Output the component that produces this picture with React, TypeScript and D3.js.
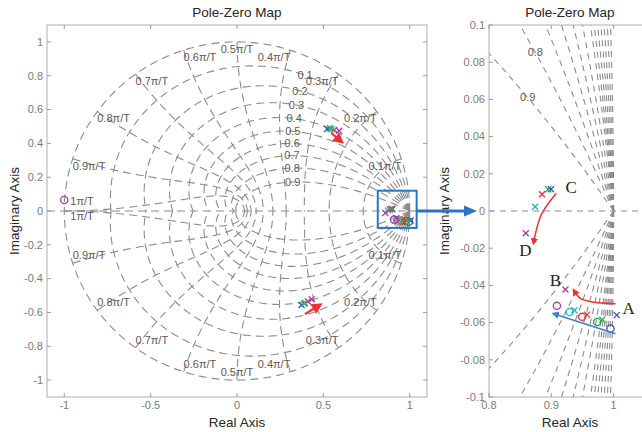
import * as d3 from "d3";

const colors = {
  blue: "#3c50c0",
  green: "#23a04a",
  red: "#e8323c",
  cyan: "#22b8b4",
  purple: "#a23dad",
};

const bluePoles = [[0.8995, 0.0117], [1.005, -0.056], [0.522, 0.485], [0.374, -0.556]];
const blueZeros = [[0.995, -0.0632]];
const greenPoles = [[0.895, 0.0117], [0.9818, -0.0584], [0.538, 0.489], [0.39, -0.548]];
const greenZeros = [[0.9737, -0.0597]];
const redPoles = [[0.885, 0.009], [0.9575, -0.0557], [0.562, 0.479], [0.41, -0.535]];
const redZeros = [[0.9495, -0.0569]];
const cyanPoles = [[0.874, 0.0023], [0.937, -0.0534], [0.548, 0.483], [0.393, -0.543]];
const cyanZeros = [[0.9295, -0.0543]];
const purplePoles = [[0.859, -0.012], [0.9226, -0.0422], [0.591, 0.475], [0.432, -0.522]];
const purpleZeros = [[0.909, -0.051], [-1.0, 0.065]];

const series = [
  { color: colors.blue, poles: bluePoles, zeros: blueZeros },
  { color: colors.green, poles: greenPoles, zeros: greenZeros },
  { color: colors.red, poles: redPoles, zeros: redZeros },
  { color: colors.cyan, poles: cyanPoles, zeros: cyanZeros },
  { color: colors.purple, poles: purplePoles, zeros: purpleZeros },
];

// grid values
const dampingValues = [0.1, 0.2, 0.3, 0.4, 0.5, 0.6, 0.7, 0.8, 0.9];
const dampingLabels = ["0.1", "0.2", "0.3", "0.4", "0.5", "0.6", "0.7", "0.8", "0.9"];
const zoomDamping = [0, 0.05, 0.1, 0.15, 0.2, 0.25, 0.3, 0.4, 0.5, 0.6, 0.7, 0.8, 0.9];
const freqSteps = [1, 2, 3, 4, 5, 6, 7, 8, 9, 10];
const freqLabels = ["0.1π/T", "0.2π/T", "0.3π/T", "0.4π/T", "0.5π/T", "0.6π/T", "0.7π/T", "0.8π/T", "0.9π/T", "1π/T"];

// ticks
const leftXTicks = [-1, -0.5, 0, 0.5, 1];
const leftXLabels = ["-1", "-0.5", "0", "0.5", "1"];
const leftYTicks = [-1, -0.8, -0.6, -0.4, -0.2, 0, 0.2, 0.4, 0.6, 0.8, 1];
const leftYLabels = ["-1", "-0.8", "-0.6", "-0.4", "-0.2", "0", "0.2", "0.4", "0.6", "0.8", "1"];
const rightXTicks = [0.8, 0.9, 1];
const rightXLabels = ["0.8", "0.9", "1"];
const rightYTicks = [-0.1, -0.08, -0.06, -0.04, -0.02, 0, 0.02, 0.04, 0.06, 0.08, 0.1];
const rightYLabels = ["-0.1", "-0.08", "-0.06", "-0.04", "-0.02", "0", "0.02", "0.04", "0.06", "0.08", "0.1"];

// annotation paths (data coords)
const arrowCD = [[0.908, 0.0095], [0.885, -0.0013], [0.876, -0.0102], [0.8715, -0.0174]];
const arrowAB = [[1.003, -0.0498], [0.9656, -0.0489], [0.9468, -0.047], [0.936, -0.0426]];
const arrowBlue = [[1.003, -0.066], [0.9037, -0.0552]];
const arrowUpper = [[0.547, 0.46], [0.605, 0.41]];
const arrowLower = [[0.393, -0.61], [0.48, -0.556]];
const zoomBox = [0.815, 1.04, -0.1, 0.12];

const FONT = "Liberation Sans, Arial, Helvetica, sans-serif";
const SERIF = "Liberation Serif, Times New Roman, serif";

const zetaCurve = (zeta: number, thMax: number, n: number) => {
  const m = zeta / Math.sqrt(1 - zeta * zeta);
  return d3.range(n + 1).map((i) => {
    const th = (thMax * i) / n;
    const r = Math.exp(-m * th);
    return [r * Math.cos(th), r * Math.sin(th)];
  });
};

const wnCurve = (wn: number, n: number) =>
  d3.range(n + 1).map((i) => {
    const phi = ((Math.PI / 2) * i) / n;
    const r = Math.exp(-wn * Math.sin(phi));
    const a = wn * Math.cos(phi);
    return [r * Math.cos(a), r * Math.sin(a)];
  });

const zetaPoint = (zeta: number, wn: number) => {
  const r = Math.exp(-zeta * wn);
  const a = wn * Math.sqrt(1 - zeta * zeta);
  return [r * Math.cos(a), r * Math.sin(a)];
};

const mirror = (pts: number[][]) => pts.map((p) => [p[0], -p[1]]);

function Markers({ x, y }: any) {
  return (
    <g>
      {series.map((s, si) => (
        <g key={si} stroke={s.color} strokeWidth={1.3} fill="none">
          {s.poles.map((p, i) => (
            <g key={i} transform={`translate(${x(p[0])},${y(p[1])})`}>
              <line x1={-3} y1={-3} x2={3} y2={3} />
              <line x1={-3} y1={3} x2={3} y2={-3} />
            </g>
          ))}
          {s.zeros.map((p, i) => (
            <circle key={i} cx={x(p[0])} cy={y(p[1])} r={3.6} />
          ))}
        </g>
      ))}
    </g>
  );
}

function Frame({ x, y, xt, xl, yt, yl, left, right, top, bottom, title, ylabelX }: any) {
  const tick = 4;
  return (
    <g fontFamily={FONT}>
      <rect x={left} y={top} width={right - left} height={bottom - top} fill="none" stroke="#adadad" />
      {xt.map((v: number, i: number) => (
        <g key={"x" + i}>
          <line x1={x(v)} x2={x(v)} y1={bottom} y2={bottom - tick} stroke="#9a9a9a" />
          <line x1={x(v)} x2={x(v)} y1={top} y2={top + tick} stroke="#9a9a9a" />
          <text x={x(v)} y={bottom + 12} textAnchor="middle" fontSize={11} fill="#7a7a7a">
            {xl[i]}
          </text>
        </g>
      ))}
      {yt.map((v: number, i: number) => (
        <g key={"y" + i}>
          <line x1={left} x2={left + tick} y1={y(v)} y2={y(v)} stroke="#9a9a9a" />
          <line x1={right} x2={right - tick} y1={y(v)} y2={y(v)} stroke="#9a9a9a" />
          <text x={left - 4} y={y(v)} dy="0.35em" textAnchor="end" fontSize={11} fill="#7a7a7a">
            {yl[i]}
          </text>
        </g>
      ))}
      <text x={(left + right) / 2} y={17} textAnchor="middle" fontSize={13.5} fill="#262626">
        {title}
      </text>
      <text x={(left + right) / 2} y={427} textAnchor="middle" fontSize={13.5} fill="#262626">
        Real Axis
      </text>
      <text
        transform={`translate(${ylabelX},${(top + bottom) / 2}) rotate(-90)`}
        textAnchor="middle"
        dy="0.35em"
        fontSize={13.5}
        fill="#262626"
      >
        Imaginary Axis
      </text>
    </g>
  );
}

export default function App() {
  const L = { left: 47, right: 427, top: 25, bottom: 397 };
  const R = { left: 489, right: 651, top: 25, bottom: 397 };
  const xL = d3.scaleLinear().domain([-1.1, 1.1]).range([L.left, L.right]);
  const yL = d3.scaleLinear().domain([-1.1, 1.1]).range([L.bottom, L.top]);
  const xR = d3.scaleLinear().domain([0.8, 1.06]).range([R.left, R.right]);
  const yR = d3.scaleLinear().domain([-0.1, 0.1]).range([R.bottom, R.top]);

  const lineL = d3.line<number[]>().x((d) => xL(d[0])).y((d) => yL(d[1]));
  const lineR = d3.line<number[]>().x((d) => xR(d[0])).y((d) => yR(d[1]));
  const curveR = d3.line<number[]>().x((d) => xR(d[0])).y((d) => yR(d[1])).curve(d3.curveCatmullRom);

  const leftGrid: number[][][] = [];
  [0, ...dampingValues].forEach((z) => {
    const c = zetaCurve(z, Math.PI, 240);
    leftGrid.push(c, mirror(c));
  });
  freqSteps.forEach((k) => {
    const c = wnCurve((k * Math.PI) / 10, 80);
    leftGrid.push(c, mirror(c));
  });

  const rightGrid: number[][][] = [];
  zoomDamping.forEach((z) => {
    const c = zetaCurve(z, 0.3, 150);
    rightGrid.push(c, mirror(c));
  });

  // only the damping labels that fall on the zoomed view
  const rightDampLabels = dampingValues
    .map((z, i) => ({ p: zetaPoint(z, 0.162), label: dampingLabels[i] }))
    .filter((d) => d.p[1] < 0.104 && d.p[0] > 0.8);

  const gridStroke = "#8c8c8c";

  return (
    <svg width={642} height={432} style={{ position: "absolute", left: 0, top: 0, background: "#fff" }}>
      <defs>
        <clipPath id="clipL">
          <rect x={L.left} y={L.top} width={L.right - L.left} height={L.bottom - L.top} />
        </clipPath>
        <clipPath id="clipR">
          <rect x={R.left} y={R.top} width={R.right - R.left} height={R.bottom - R.top} />
        </clipPath>
        <marker id="headRed" viewBox="0 0 10 10" refX="7" refY="5" markerWidth="5" markerHeight="5" orient="auto">
          <path d="M0,0L10,5L0,10z" fill="#f03030" />
        </marker>
        <marker id="headBlue" viewBox="0 0 10 10" refX="7" refY="5" markerWidth="5" markerHeight="5" orient="auto">
          <path d="M0,0L10,5L0,10z" fill="#3f82d0" />
        </marker>
      </defs>
      <rect width={642} height={432} fill="#fff" />

      {/* left pole-zero map */}
      <g clipPath="url(#clipL)">
        <g fill="none" stroke={gridStroke} strokeWidth={1.1} strokeDasharray="8,5">
          {leftGrid.map((c, i) => (
            <path key={i} d={lineL(c) || ""} />
          ))}
          <line x1={L.left} x2={L.right} y1={yL(0)} y2={yL(0)} />
        </g>
        <g fontFamily={FONT} fontSize={11} fill="#5a5a5a">
          {dampingValues.map((z, i) => {
            const p = zetaPoint(z, 1.12);
            return (
              <text key={i} x={xL(p[0])} y={yL(p[1])} dy="0.35em" textAnchor="middle">
                {dampingLabels[i]}
              </text>
            );
          })}
          {freqSteps.map((k, i) => {
            const a = (k * Math.PI) / 10;
            const px = xL(Math.cos(a));
            const py = yL(Math.sin(a));
            if (k === 10) {
              return (
                <g key={i}>
                  <text x={px + 6} y={py - 10} dy="0.35em">{freqLabels[i]}</text>
                  <text x={px + 6} y={py + 5} dy="0.35em">{freqLabels[i]}</text>
                </g>
              );
            }
            const anchor = k < 5 ? "end" : k > 5 ? "start" : "middle";
            return (
              <g key={i}>
                <text x={px} y={py + 7} dy="0.35em" textAnchor={anchor}>{freqLabels[i]}</text>
                <text x={px} y={yL(-Math.sin(a)) - 8} dy="0.35em" textAnchor={anchor}>{freqLabels[i]}</text>
              </g>
            );
          })}
        </g>
        <Markers x={xL} y={yL} />
        <path d={lineL(arrowUpper) || ""} stroke="#f03030" strokeWidth={2.2} fill="none" markerEnd="url(#headRed)" />
        <path d={lineL(arrowLower) || ""} stroke="#f03030" strokeWidth={2.2} fill="none" markerEnd="url(#headRed)" />
      </g>
      <Frame
        x={xL} y={yL} xt={leftXTicks} xl={leftXLabels} yt={leftYTicks} yl={leftYLabels}
        {...L} title="Pole-Zero Map" ylabelX={14}
      />
      <rect
        x={xL(zoomBox[0])} y={yL(zoomBox[3])}
        width={xL(zoomBox[1]) - xL(zoomBox[0])} height={yL(zoomBox[2]) - yL(zoomBox[3])}
        fill="none" stroke="#2c74c2" strokeWidth={2}
      />

      {/* right zoomed map */}
      <g clipPath="url(#clipR)">
        <g fill="none" stroke={gridStroke} strokeWidth={1.1} strokeDasharray="6,5">
          {rightGrid.map((c, i) => (
            <path key={i} d={lineR(c) || ""} />
          ))}
          <line x1={R.left} x2={R.right} y1={yR(0)} y2={yR(0)} />
        </g>
        <g fontFamily={FONT} fontSize={11} fill="#5a5a5a">
          {rightDampLabels.map((d, i) => (
            <text key={i} x={xR(d.p[0])} y={yR(d.p[1])} dy="0.35em" textAnchor="middle">
              {d.label}
            </text>
          ))}
        </g>
        <Markers x={xR} y={yR} />
        <path d={curveR(arrowCD) || ""} stroke="#f03030" strokeWidth={1.5} fill="none" markerEnd="url(#headRed)" />
        <path d={curveR(arrowAB) || ""} stroke="#f03030" strokeWidth={1.5} fill="none" markerEnd="url(#headRed)" />
        <path d={lineR(arrowBlue) || ""} stroke="#3f82d0" strokeWidth={1.5} fill="none" markerEnd="url(#headBlue)" />
        <g fontFamily={SERIF} fontSize={17} fill="#222">
          <text x={xR(0.91) + 8} y={yR(0.013)} dy="0.35em">C</text>
          <text x={xR(0.858) - 6} y={yR(-0.021)} dy="0.35em">D</text>
          <text x={xR(0.92) - 14} y={yR(-0.037)} dy="0.35em">B</text>
          <text x={xR(1.008) + 4} y={yR(-0.052)} dy="0.35em">A</text>
        </g>
      </g>
      <Frame
        x={xR} y={yR} xt={rightXTicks} xl={rightXLabels} yt={rightYTicks} yl={rightYLabels}
        {...R} title="Pole-Zero Map" ylabelX={444}
      />

      {/* connector arrow */}
      <line x1={xL(zoomBox[1])} x2={466} y1={yL(0)} y2={yL(0)} stroke="#2c74c2" strokeWidth={3} />
      <path d={`M${464},${yL(0) - 5.5}L${477},${yL(0)}L${464},${yL(0) + 5.5}z`} fill="#2c74c2" />
    </svg>
  );
}
